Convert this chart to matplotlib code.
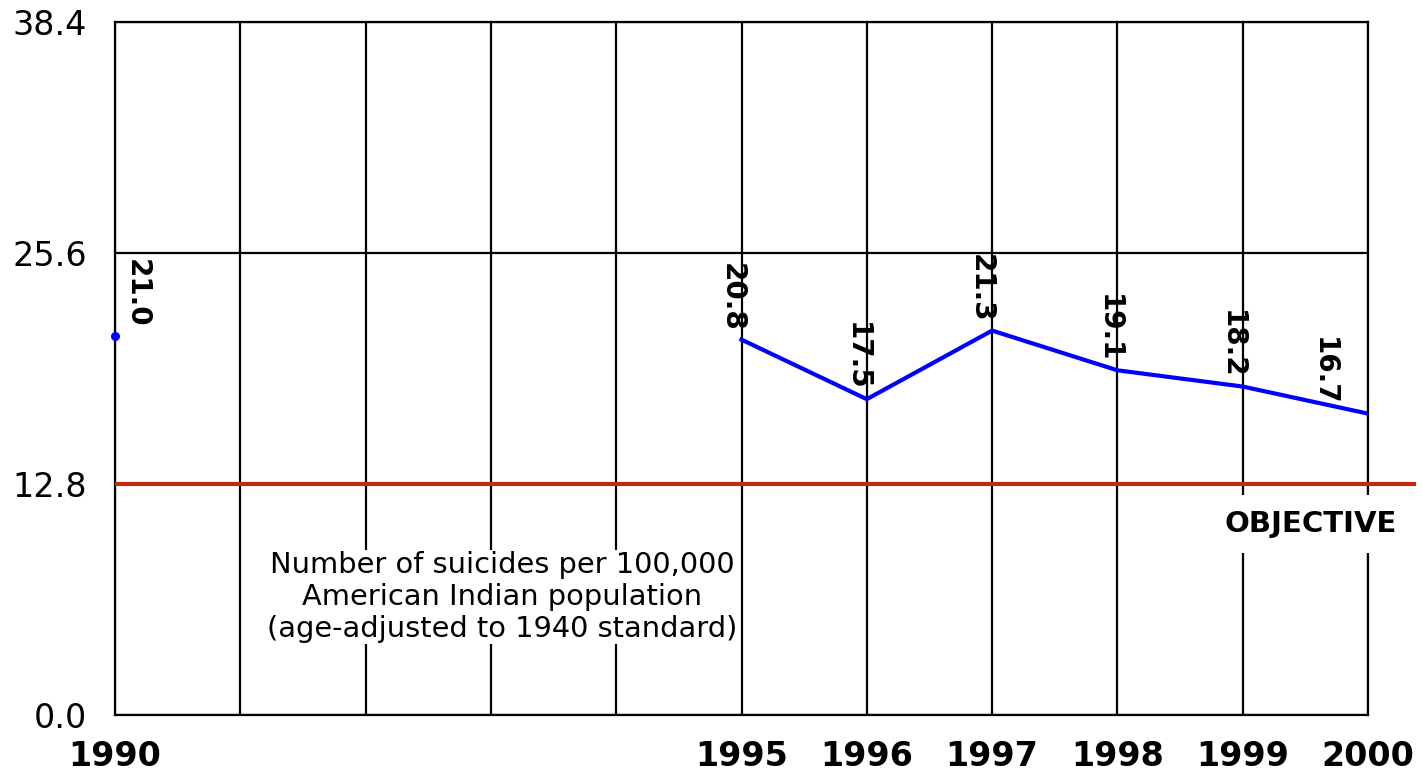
import numpy as np
import matplotlib.pyplot as plt

# data
years = [1990, 1995, 1996, 1997, 1998, 1999, 2000]
rates = [21.0, 20.8, 17.5, 21.3, 19.1, 18.2, 16.7]
objective = 12.8
ytick_values = [0.0, 12.8, 25.6, 38.4]
year_labels = ['1990', '1995', '1996', '1997', '1998', '1999', '2000']
note = "Number of suicides per 100,000\nAmerican Indian population\n(age-adjusted to 1940 standard)"

# horizontal nudge of each value label (points)
label_dx = [26, 3, 3, 2, 4, 2, -22]

fig = plt.figure(figsize=(14.22, 7.73), dpi=100)
ax = fig.add_axes([115 / 1422, 1 - 715 / 773, (1368 - 115) / 1422, (715 - 22) / 773])

ax.set_xlim(1990, 2000)
ax.set_ylim(0, 38.4)

# grid: every year vertically, every tick horizontally
ax.set_xticks(np.arange(1990, 2001))
ax.set_xticklabels([str(y) if str(y) in year_labels else '' for y in range(1990, 2001)],
                   fontsize=24, fontweight='bold')
ax.set_yticks(ytick_values)
ax.set_yticklabels(['%.1f' % v for v in ytick_values], fontsize=24)
ax.tick_params(axis='both', length=0)
ax.tick_params(axis='y', pad=20)
ax.tick_params(axis='x', pad=18)
ax.grid(True, color='black', linewidth=1.6)
ax.set_axisbelow(True)
for s in ax.spines.values():
    s.set_color('black')
    s.set_linewidth(1.6)

# objective line, runs a little past the right edge
ax.plot([1990, 2000.38], [objective, objective], color='#C42A0C', linewidth=3,
        clip_on=False, zorder=3, solid_capstyle='butt')

# series
ax.plot(years[1:], rates[1:], color='#0000FF', linewidth=3, zorder=4)
ax.plot(years[:1], rates[:1], 'o', color='#0000FF', markersize=5.5, zorder=4, clip_on=False)

for x, v, dx in zip(years, rates, label_dx):
    ax.annotate('%.1f' % v, (x, v), xytext=(dx, 6), textcoords='offset points',
                rotation=-90, ha='right', va='bottom', fontsize=20, fontweight='bold')

ax.text(1993.09, 6.54, note, ha='center', va='center', fontsize=20.8,
        linespacing=1.2, zorder=5,
        bbox=dict(boxstyle='square,pad=0.03', facecolor='white', edgecolor='none'))

ax.text(1999.545, 10.58, 'OBJECTIVE', ha='center', va='center', fontsize=21,
        fontweight='bold', zorder=5, clip_on=False,
        bbox=dict(boxstyle='square,pad=0.5', facecolor='white', edgecolor='none'))

fig.savefig('out.png', dpi=100)
